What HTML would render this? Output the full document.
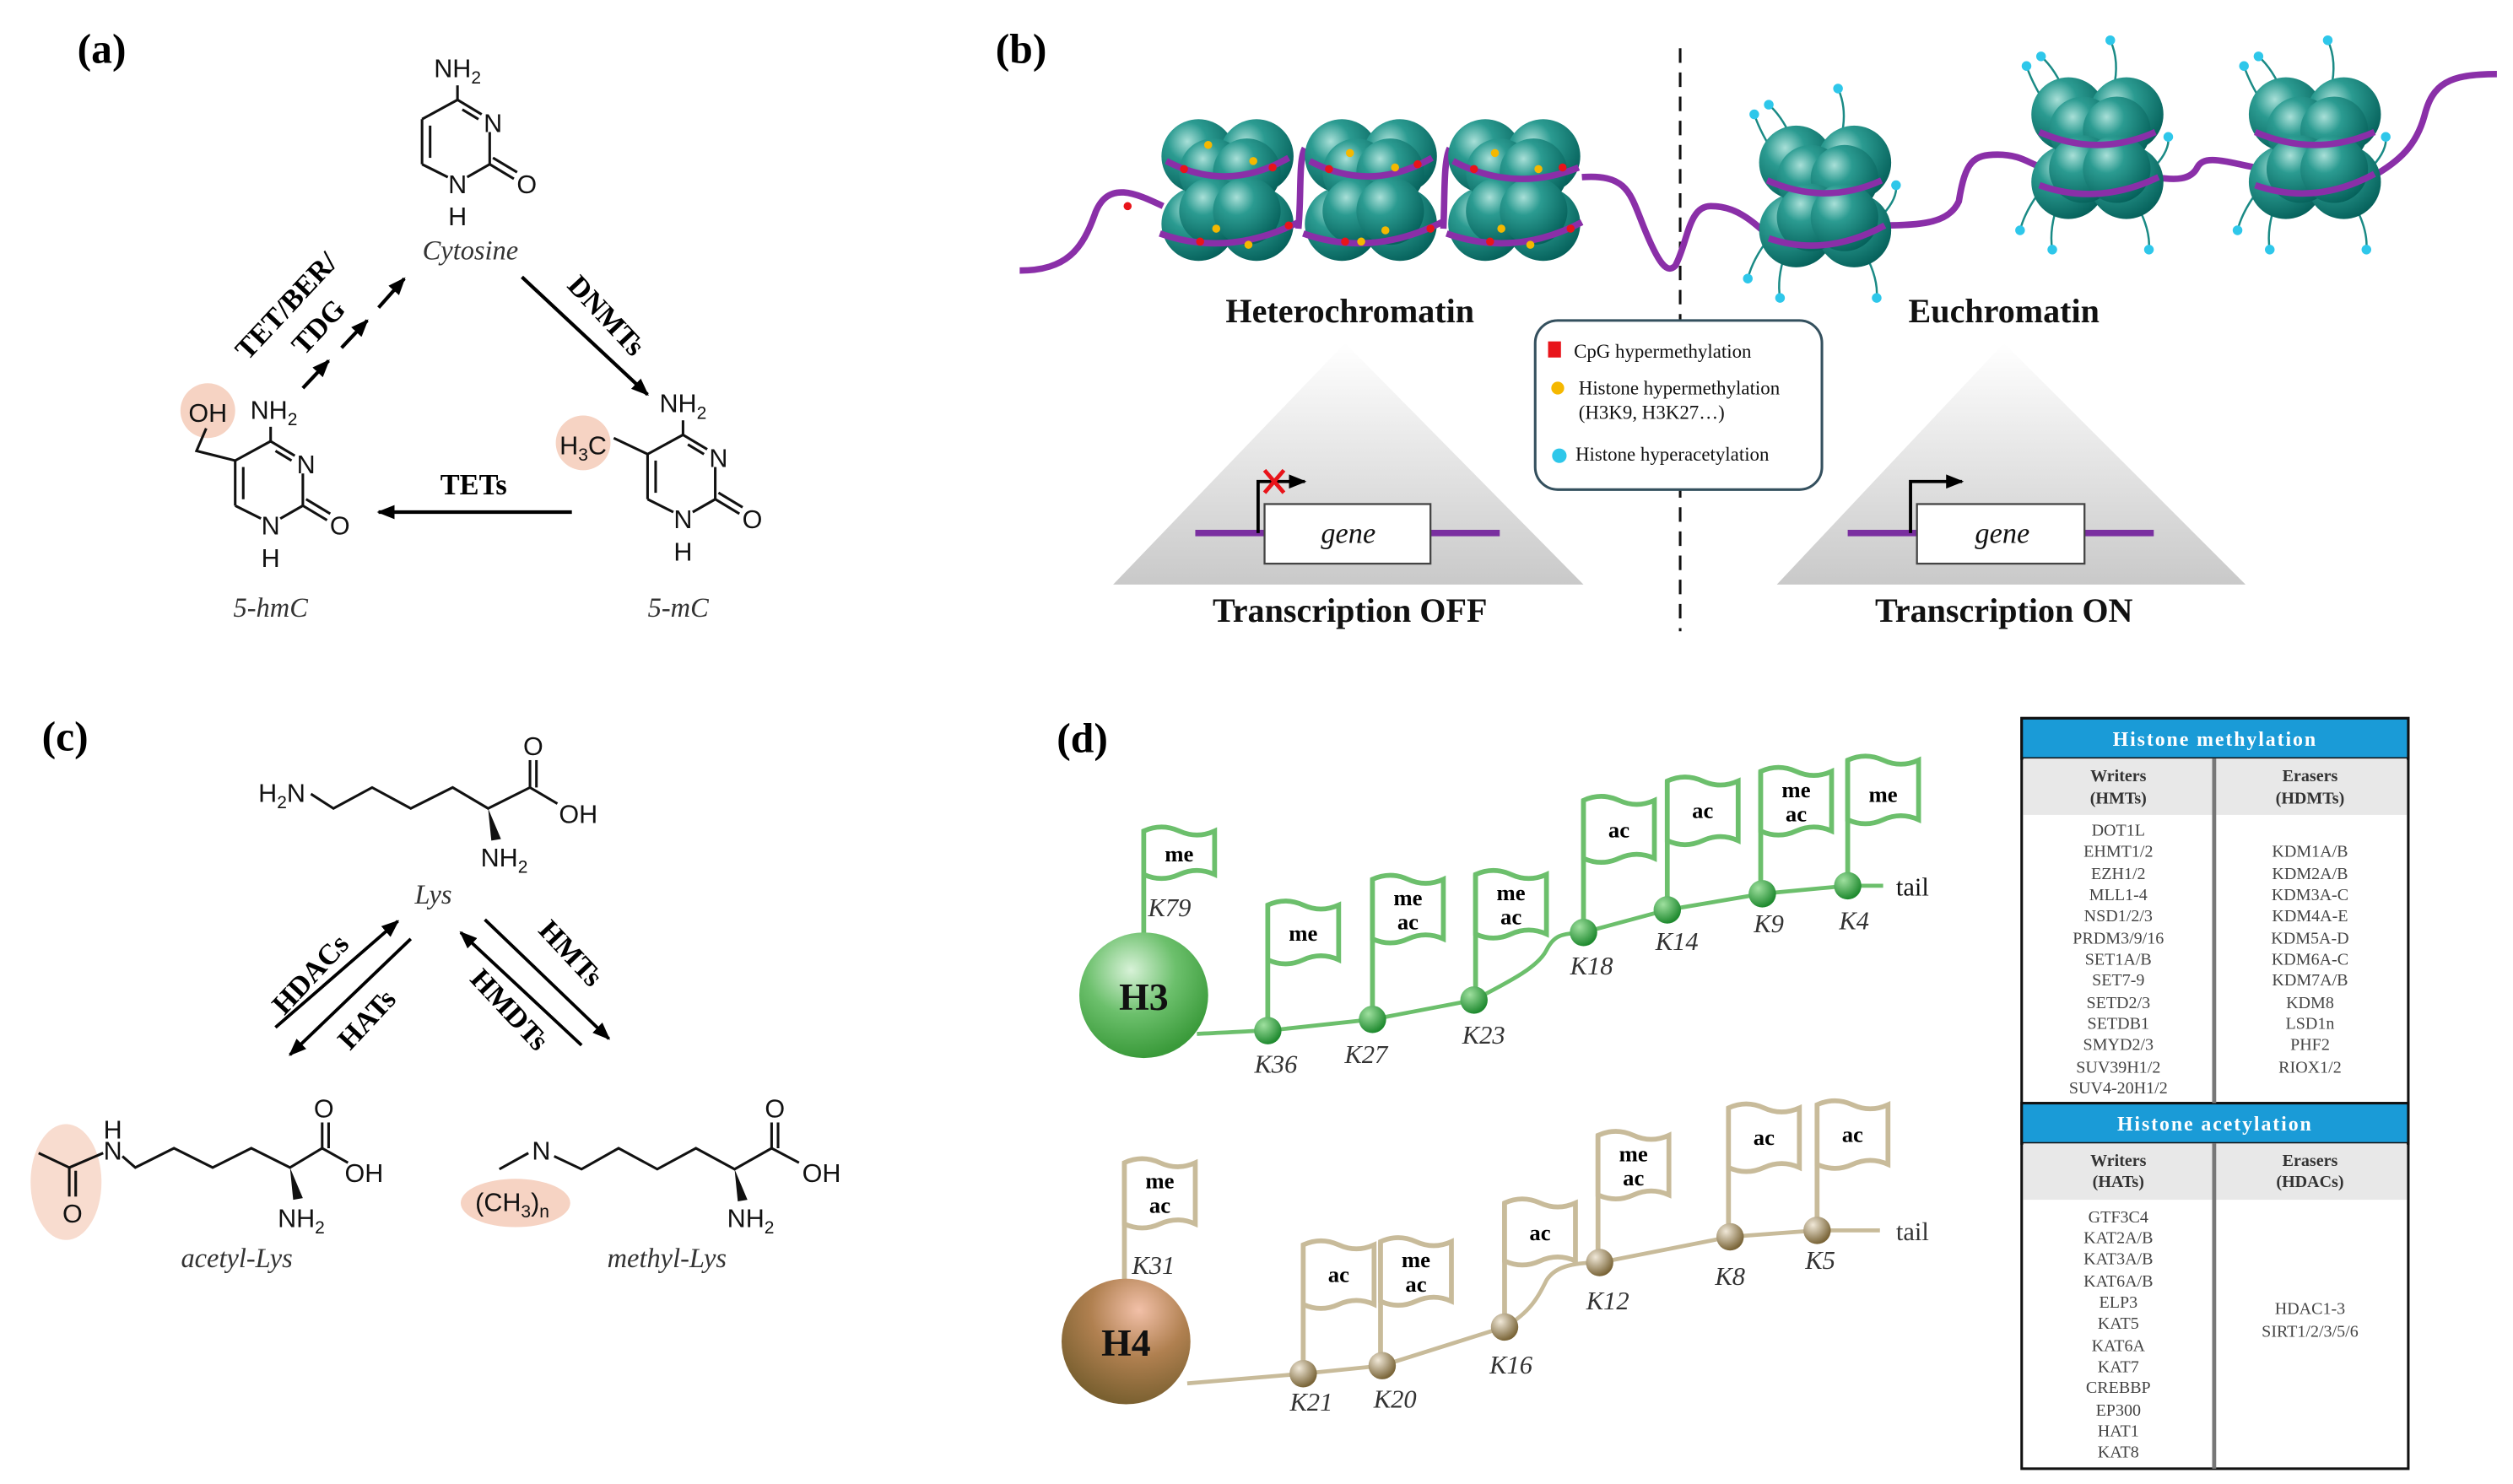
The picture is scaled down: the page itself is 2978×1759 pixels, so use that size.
<!DOCTYPE html>
<html><head><meta charset="utf-8"><style>
html,body{margin:0;padding:0;background:#fff}
svg{display:block}
.s{font-family:"Liberation Sans",sans-serif;font-size:16px;fill:#111}
.r{font-family:"Liberation Serif",serif;fill:#111}
.lab{font-family:"Liberation Serif",serif;font-weight:bold;font-size:26px}
.it{font-family:"Liberation Serif",serif;font-style:italic;font-size:17px;fill:#333}
.bt{font-family:"Liberation Serif",serif;font-weight:bold;font-size:18px}
.fl{font-family:"Liberation Serif",serif;font-weight:bold;font-size:14px;text-anchor:middle}
.kl{font-family:"Liberation Serif",serif;font-style:italic;font-size:16px;fill:#333;text-anchor:middle}
.tb{font-family:"Liberation Serif",serif;font-size:10.5px;fill:#444;text-anchor:middle}
.th{font-family:"Liberation Serif",serif;font-size:10.5px;font-weight:bold;fill:#333;text-anchor:middle}
.tw{font-family:"Liberation Serif",serif;font-size:12.5px;font-weight:bold;fill:#fff;text-anchor:middle;letter-spacing:1px}
</style></head><body>
<svg width="2978" height="1759" viewBox="0 0 1560 921.5" preserveAspectRatio="none" xmlns="http://www.w3.org/2000/svg">
<defs>
<marker id="ah" viewBox="0 0 10 8" refX="9" refY="4" markerWidth="11" markerHeight="9" markerUnits="userSpaceOnUse" orient="auto"><path d="M0,0 L10,4 L0,8 z" fill="#000"/></marker>
<g id="ring" stroke="#111" stroke-width="1.6" fill="none">
<line x1="0" y1="0" x2="15" y2="9"/><line x1="3" y1="6" x2="13" y2="12"/>
<line x1="20" y1="20" x2="20" y2="40"/>
<line x1="20" y1="40" x2="6" y2="48"/>
<line x1="-6" y1="48" x2="-22" y2="40"/>
<line x1="-22" y1="40" x2="-22" y2="12"/><line x1="-17" y1="36" x2="-17" y2="16"/>
<line x1="-22" y1="12" x2="0" y2="0"/>
<line x1="20" y1="40" x2="35" y2="49"/><line x1="22" y1="36" x2="37" y2="45"/>
<line x1="0" y1="0" x2="0" y2="-9"/>
</g>
<radialGradient id="teal" cx="35%" cy="30%" r="75%"><stop offset="0" stop-color="#a9e0d8"/><stop offset="0.35" stop-color="#2b9b91"/><stop offset="1" stop-color="#05605a"/></radialGradient>
<linearGradient id="tri" x1="0" y1="0" x2="0" y2="1"><stop offset="0" stop-color="#fff"/><stop offset="1" stop-color="#c9c9c9"/></linearGradient>
<radialGradient id="g3" cx="40%" cy="30%" r="70%"><stop offset="0" stop-color="#d8f2d8"/><stop offset="0.5" stop-color="#6cc06c"/><stop offset="1" stop-color="#3a9a3a"/></radialGradient>
<radialGradient id="g4" cx="60%" cy="25%" r="75%"><stop offset="0" stop-color="#f2c0a8"/><stop offset="0.5" stop-color="#b08050"/><stop offset="1" stop-color="#7a6030"/></radialGradient>
<radialGradient id="b3" cx="35%" cy="30%" r="70%"><stop offset="0" stop-color="#9fe09f"/><stop offset="1" stop-color="#1f8a2f"/></radialGradient>
<radialGradient id="b4" cx="35%" cy="30%" r="70%"><stop offset="0" stop-color="#f0e8d8"/><stop offset="1" stop-color="#7a6538"/></radialGradient>
<g id="nuc">
<circle cx="-18" cy="-22" r="23" fill="url(#teal)"/><circle cx="18" cy="-22" r="23" fill="url(#teal)"/>
<circle cx="-18" cy="20" r="23" fill="url(#teal)"/><circle cx="18" cy="20" r="23" fill="url(#teal)"/>
<circle cx="-9" cy="-12" r="21" fill="url(#teal)"/><circle cx="12" cy="-12" r="21" fill="url(#teal)"/>
<circle cx="-9" cy="12" r="21" fill="url(#teal)"/><circle cx="12" cy="12" r="21" fill="url(#teal)"/>
</g>
<g id="tails" stroke="#1a8a85" stroke-width="1.3" fill="none">
<path d="M-30,-25 Q-40,-40 -44,-52"/><path d="M-20,-35 Q-26,-50 -35,-58"/><path d="M10,-38 Q14,-55 8,-68"/>
<path d="M-35,25 Q-45,38 -48,50"/><path d="M-25,35 Q-30,50 -28,62"/><path d="M25,35 Q33,50 32,62"/><path d="M36,10 Q45,0 44,-8"/>
<g fill="#2ec7ea" stroke="none"><circle cx="-44" cy="-52" r="3"/><circle cx="-35" cy="-58" r="3"/><circle cx="8" cy="-68" r="3"/><circle cx="-48" cy="50" r="3"/><circle cx="-28" cy="62" r="3"/><circle cx="32" cy="62" r="3"/><circle cx="44" cy="-8" r="3"/></g>
</g>
</defs>

<!-- ===== (a) ===== -->
<text class="lab" x="48" y="39">(a)</text>
<use href="#ring" x="284" y="62"/>
<text class="s" x="284" y="48" text-anchor="middle">NH<tspan font-size="11" dy="4">2</tspan></text>
<text class="s" x="306" y="82" text-anchor="middle">N</text>
<text class="s" x="284" y="120" text-anchor="middle">N</text>
<text class="s" x="284" y="140" text-anchor="middle">H</text>
<text class="s" x="327" y="120" text-anchor="middle">O</text>
<text class="it" x="292" y="161" text-anchor="middle">Cytosine</text>

<use href="#ring" x="424" y="270"/>
<text class="s" x="424" y="256" text-anchor="middle">NH<tspan font-size="11" dy="4">2</tspan></text>
<text class="s" x="446" y="290" text-anchor="middle">N</text>
<text class="s" x="424" y="328" text-anchor="middle">N</text>
<text class="s" x="424" y="348" text-anchor="middle">H</text>
<text class="s" x="467" y="328" text-anchor="middle">O</text>
<circle cx="362" cy="275" r="17" fill="#f6d3c3"/>
<line x1="402" y1="282" x2="381" y2="272" stroke="#111" stroke-width="1.6"/>
<text class="s" x="362" y="282" text-anchor="middle">H<tspan font-size="11" dy="4">3</tspan><tspan dy="-4">C</tspan></text>
<text class="it" x="421" y="383" text-anchor="middle">5-mC</text>

<use href="#ring" x="168" y="274"/>
<text class="s" x="170" y="260" text-anchor="middle">NH<tspan font-size="11" dy="4">2</tspan></text>
<text class="s" x="190" y="294" text-anchor="middle">N</text>
<text class="s" x="168" y="332" text-anchor="middle">N</text>
<text class="s" x="168" y="352" text-anchor="middle">H</text>
<text class="s" x="211" y="332" text-anchor="middle">O</text>
<circle cx="129" cy="255" r="17" fill="#f6d3c3"/>
<polyline points="146,286 122,280 128,266" fill="none" stroke="#111" stroke-width="1.6"/>
<text class="s" x="129" y="262" text-anchor="middle">OH</text>
<text class="it" x="168" y="383" text-anchor="middle">5-hmC</text>

<g stroke="#000" stroke-width="2.2" marker-end="url(#ah)">
<line x1="188" y1="241" x2="204" y2="224"/>
<line x1="212" y1="216" x2="228" y2="199"/>
<line x1="235" y1="191" x2="251" y2="173"/>
<line x1="324" y1="172" x2="402" y2="245"/>
<line x1="355" y1="318" x2="235" y2="318"/>
</g>
<text class="bt" x="294" y="307" text-anchor="middle">TETs</text>
<text class="bt" transform="translate(372,200) rotate(47)" text-anchor="middle">DNMTs</text>
<text class="bt" transform="translate(182,194) rotate(-47)" text-anchor="middle">TET/BER/</text>
<text class="bt" transform="translate(202,207) rotate(-47)" text-anchor="middle">TDG</text>

<!-- ===== (b) ===== -->
<text class="lab" x="618" y="39">(b)</text>
<line x1="1043" y1="30" x2="1043" y2="392" stroke="#111" stroke-width="1.6" stroke-dasharray="9,6"/>
<polygon points="835,213 691,363 983,363" fill="url(#tri)"/>
<polygon points="1244,213 1103,363 1394,363" fill="url(#tri)"/>
<!-- DNA back -->
<path d="M633,168 C662,168 672,155 680,132 C688,112 705,120 722,128 M806,142 C808,120 806,100 810,92 M896,142 C897,120 896,100 900,92 M982,110 C1010,108 1012,120 1020,140 C1030,165 1035,170 1040,165 C1048,150 1048,128 1062,128 C1080,128 1090,140 1100,148 M1168,140 C1195,140 1210,138 1216,125 C1220,100 1225,96 1240,96 C1255,96 1260,102 1268,104 M1338,110 C1350,112 1360,112 1364,104 C1368,96 1380,100 1400,104 M1472,110 C1490,100 1500,90 1505,72 C1510,52 1520,46 1550,46" fill="none" stroke="#8a2fa8" stroke-width="4"/>
<use href="#nuc" x="762" y="119"/><use href="#nuc" x="851" y="119"/><use href="#nuc" x="940" y="119"/>
<use href="#tails" x="1133" y="123"/><use href="#tails" x="1302" y="93"/><use href="#tails" x="1437" y="93"/>
<use href="#nuc" x="1133" y="123"/><use href="#nuc" x="1302" y="93"/><use href="#nuc" x="1437" y="93"/>
<g fill="none" stroke="#8a2fa8" stroke-width="4">
<path d="M724,100 Q762,120 800,98"/><path d="M720,145 Q762,160 806,138"/>
<path d="M813,100 Q851,120 889,98"/><path d="M809,145 Q851,160 895,138"/>
<path d="M902,100 Q940,120 980,104"/><path d="M898,145 Q940,160 982,138"/>
<path d="M1097,112 Q1133,128 1168,112"/><path d="M1098,148 Q1133,160 1170,140"/>
<path d="M1266,82 Q1302,98 1338,82"/><path d="M1266,115 Q1302,128 1340,110"/>
<path d="M1400,82 Q1437,98 1474,82"/><path d="M1400,115 Q1437,128 1474,108"/>
</g>
<g fill="#e8141a"><circle cx="735" cy="105" r="2.5"/><circle cx="790" cy="104" r="2.5"/><circle cx="745" cy="150" r="2.5"/><circle cx="800" cy="140" r="2.5"/><circle cx="825" cy="105" r="2.5"/><circle cx="880" cy="102" r="2.5"/><circle cx="835" cy="150" r="2.5"/><circle cx="888" cy="142" r="2.5"/><circle cx="915" cy="105" r="2.5"/><circle cx="970" cy="104" r="2.5"/><circle cx="925" cy="150" r="2.5"/><circle cx="975" cy="142" r="2.5"/><circle cx="700" cy="128" r="2.5"/></g>
<g fill="#f5b800"><circle cx="750" cy="90" r="2.5"/><circle cx="778" cy="100" r="2.5"/><circle cx="755" cy="142" r="2.5"/><circle cx="775" cy="152" r="2.5"/><circle cx="838" cy="95" r="2.5"/><circle cx="866" cy="104" r="2.5"/><circle cx="845" cy="150" r="2.5"/><circle cx="860" cy="143" r="2.5"/><circle cx="928" cy="95" r="2.5"/><circle cx="955" cy="105" r="2.5"/><circle cx="932" cy="142" r="2.5"/><circle cx="950" cy="152" r="2.5"/></g>
<text class="r" x="838" y="200" text-anchor="middle" font-size="21" font-weight="bold">Heterochromatin</text>
<text class="r" x="1244" y="200" text-anchor="middle" font-size="21" font-weight="bold">Euchromatin</text>
<rect x="953" y="199" width="178" height="105" rx="14" fill="#fff" stroke="#34505e" stroke-width="1.6"/>
<rect x="961" y="212" width="8" height="10" fill="#e8141a"/>
<text class="r" x="977" y="222" font-size="12" fill="#333">CpG hypermethylation</text>
<circle cx="967" cy="241" r="4" fill="#f5b800"/>
<text class="r" x="980" y="245" font-size="12" fill="#333">Histone hypermethylation</text>
<text class="r" x="980" y="260" font-size="12" fill="#333">(H3K9, H3K27…)</text>
<circle cx="968" cy="283" r="4.5" fill="#2ec7ea"/>
<text class="r" x="978" y="286" font-size="12" fill="#333">Histone hyperacetylation</text>
<!-- genes -->
<line x1="742" y1="331" x2="931" y2="331" stroke="#7a2fa0" stroke-width="4"/>
<rect x="785" y="313" width="103" height="37" fill="#fff" stroke="#444" stroke-width="1.2"/>
<text class="r" x="837" y="337" text-anchor="middle" font-size="18" font-style="italic">gene</text>
<polyline points="781,331 781,299 810,299" fill="none" stroke="#000" stroke-width="2" marker-end="url(#ah)"/>
<path d="M785,292 L797,306 M797,292 L785,306" stroke="#e8141a" stroke-width="2.5"/>
<line x1="1147" y1="331" x2="1337" y2="331" stroke="#7a2fa0" stroke-width="4"/>
<rect x="1190" y="313" width="104" height="37" fill="#fff" stroke="#444" stroke-width="1.2"/>
<text class="r" x="1243" y="337" text-anchor="middle" font-size="18" font-style="italic">gene</text>
<polyline points="1186,331 1186,299 1218,299" fill="none" stroke="#000" stroke-width="2" marker-end="url(#ah)"/>
<text class="r" x="838" y="386" text-anchor="middle" font-size="21" font-weight="bold">Transcription OFF</text>
<text class="r" x="1244" y="386" text-anchor="middle" font-size="21" font-weight="bold">Transcription ON</text>

<!-- ===== (c) ===== -->
<text class="lab" x="26" y="466">(c)</text>
<g stroke="#111" stroke-width="1.6" fill="none">
<polyline points="193,493 207,502 231,489 255,502 281,489 303,502 329,489 346,499"/>
<line x1="329" y1="489" x2="329" y2="472"/><line x1="333" y1="489" x2="333" y2="472"/>
<polyline points="43,743 43,725 24,716"/><line x1="47" y1="743" x2="47" y2="727"/>
<polyline points="43,725 64,716"/>
<polyline points="76,718 84,725 108,713 132,725 156,713 180,725 200,713 216,722"/>
<line x1="200" y1="713" x2="200" y2="697"/><line x1="204" y1="713" x2="204" y2="697"/>
<polyline points="310,726 328,716"/>
<polyline points="344,718 361,726 384,713 408,726 432,713 456,726 479,713 496,722"/>
<line x1="479" y1="713" x2="479" y2="697"/><line x1="483" y1="713" x2="483" y2="697"/>
</g>
<g fill="#111"><polygon points="303,502 305,522 311,521"/><polygon points="180,725 182,745 188,744"/><polygon points="456,726 458,746 464,745"/></g>
<text class="s" x="175" y="498" text-anchor="middle">H<tspan font-size="11" dy="4">2</tspan><tspan dy="-4">N</tspan></text>
<text class="s" x="331" y="469" text-anchor="middle">O</text>
<text class="s" x="359" y="511" text-anchor="middle">OH</text>
<text class="s" x="313" y="538" text-anchor="middle">NH<tspan font-size="11" dy="4">2</tspan></text>
<text class="it" x="269" y="561" text-anchor="middle">Lys</text>
<g stroke="#000" stroke-width="2" marker-end="url(#ah)">
<line x1="171" y1="638" x2="247" y2="572"/><line x1="255" y1="583" x2="180" y2="655"/>
<line x1="301" y1="571" x2="378" y2="645"/><line x1="361" y1="649" x2="286" y2="579"/>
</g>
<text class="bt" font-size="17" transform="translate(197,609) rotate(-47)" text-anchor="middle">HDACs</text>
<text class="bt" font-size="17" transform="translate(232,637) rotate(-47)" text-anchor="middle">HATs</text>
<text class="bt" font-size="17" transform="translate(350,596) rotate(47)" text-anchor="middle">HMTs</text>
<text class="bt" font-size="17" transform="translate(312,631) rotate(47)" text-anchor="middle">HMDTs</text>
<ellipse cx="41" cy="734" rx="22" ry="36" fill="#f6d3c3" fill-opacity="0.8"/>
<g stroke="#111" stroke-width="1.6" fill="none"><polyline points="43,743 43,725 24,716"/><line x1="47" y1="743" x2="47" y2="727"/><line x1="43" y1="725" x2="64" y2="716"/></g>
<text class="s" x="70" y="720" text-anchor="middle">N</text>
<text class="s" x="70" y="707" text-anchor="middle">H</text>
<text class="s" x="45" y="759" text-anchor="middle">O</text>
<text class="s" x="201" y="694" text-anchor="middle">O</text>
<text class="s" x="226" y="734" text-anchor="middle">OH</text>
<text class="s" x="187" y="762" text-anchor="middle">NH<tspan font-size="11" dy="4">2</tspan></text>
<text class="it" x="147" y="787" text-anchor="middle">acetyl-Lys</text>
<ellipse cx="320" cy="747" rx="34" ry="15" fill="#f6d3c3"/>
<text class="s" x="336" y="720" text-anchor="middle">N</text>
<text class="s" x="318" y="752" text-anchor="middle">(CH<tspan font-size="11" dy="4">3</tspan><tspan dy="-4">)</tspan><tspan font-size="11" dy="4">n</tspan></text>
<text class="s" x="481" y="694" text-anchor="middle">O</text>
<text class="s" x="510" y="734" text-anchor="middle">OH</text>
<text class="s" x="466" y="762" text-anchor="middle">NH<tspan font-size="11" dy="4">2</tspan></text>
<text class="it" x="414" y="787" text-anchor="middle">methyl-Lys</text>

<!-- ===== (d) ===== -->
<text class="lab" x="656" y="467">(d)</text>
<!-- H3 -->
<path d="M743,642 C765,641 780,640 787,640 L852,633 L915,621 C940,608 955,600 960,590 C965,580 970,580 983,579 L1035,565 L1094,555 L1147,550 L1169,550" fill="none" stroke="#6cbf6c" stroke-width="2.5"/>
<g stroke="#6cbf6c" stroke-width="3" fill="#fff">
<line x1="710" y1="582" x2="710" y2="516"/><path d="M710,516 q11,-5 22,0 t22,0 v27 q-11,-5 -22,0 t-22,0 z"/>
<line x1="787" y1="640" x2="787" y2="562"/><path d="M787,562 q11,-5 22,0 t22,0 v34 q-11,-5 -22,0 t-22,0 z"/>
<line x1="852" y1="633" x2="852" y2="546"/><path d="M852,546 q11,-5 22,0 t22,0 v37 q-11,-5 -22,0 t-22,0 z"/>
<line x1="916" y1="621" x2="916" y2="543"/><path d="M916,543 q11,-5 22,0 t22,0 v37 q-11,-5 -22,0 t-22,0 z"/>
<line x1="983" y1="579" x2="983" y2="497"/><path d="M983,497 q11,-5 22,0 t22,0 v36 q-11,-5 -22,0 t-22,0 z"/>
<line x1="1035" y1="565" x2="1035" y2="485"/><path d="M1035,485 q11,-5 22,0 t22,0 v37 q-11,-5 -22,0 t-22,0 z"/>
<line x1="1093" y1="555" x2="1093" y2="479"/><path d="M1093,479 q11,-5 22,0 t22,0 v37 q-11,-5 -22,0 t-22,0 z"/>
<line x1="1147" y1="550" x2="1147" y2="472"/><path d="M1147,472 q11,-5 22,0 t22,0 v37 q-11,-5 -22,0 t-22,0 z"/>
</g>
<g fill="url(#b3)"><circle cx="787" cy="640" r="8.5"/><circle cx="852" cy="633" r="8.5"/><circle cx="915" cy="621" r="8.5"/><circle cx="983" cy="579" r="8.5"/><circle cx="1035" cy="565" r="8.5"/><circle cx="1094" cy="555" r="8.5"/><circle cx="1147" cy="550" r="8.5"/></g>
<ellipse cx="710" cy="618" rx="40" ry="39" fill="url(#g3)"/>
<text class="r" x="710" y="627" text-anchor="middle" font-size="24" font-weight="bold">H3</text>
<text class="s" x="1177" y="556" font-family="Liberation Serif" style="font-family:'Liberation Serif',serif" font-size="16">tail</text>
<text class="fl" x="732" y="535">me</text>
<text class="fl" x="809" y="584">me</text>
<text class="fl" x="874" y="562">me</text><text class="fl" x="874" y="577">ac</text>
<text class="fl" x="938" y="559">me</text><text class="fl" x="938" y="574">ac</text>
<text class="fl" x="1005" y="520">ac</text>
<text class="fl" x="1057" y="508">ac</text>
<text class="fl" x="1115" y="495">me</text><text class="fl" x="1115" y="510">ac</text>
<text class="fl" x="1169" y="498">me</text>
<text class="kl" x="726" y="569">K79</text><text class="kl" x="792" y="666">K36</text><text class="kl" x="848" y="660">K27</text><text class="kl" x="921" y="648">K23</text><text class="kl" x="988" y="605">K18</text><text class="kl" x="1041" y="590">K14</text><text class="kl" x="1098" y="579">K9</text><text class="kl" x="1151" y="577">K4</text>
<!-- H4 -->
<path d="M737,859 L809,853 L858,848 L934,824 C950,815 955,805 960,795 C965,787 975,784 993,784 L1074,768 L1128,764 L1167,764" fill="none" stroke="#c8bb9a" stroke-width="2.5"/>
<g stroke="#c8bb9a" stroke-width="3" fill="#fff">
<line x1="698" y1="796" x2="698" y2="722"/><path d="M698,722 q11,-5 22,0 t22,0 v38 q-11,-5 -22,0 t-22,0 z"/>
<line x1="809" y1="853" x2="809" y2="773"/><path d="M809,773 q11,-5 22,0 t22,0 v37 q-11,-5 -22,0 t-22,0 z"/>
<line x1="857" y1="848" x2="857" y2="771"/><path d="M857,771 q11,-5 22,0 t22,0 v37 q-11,-5 -22,0 t-22,0 z"/>
<line x1="934" y1="824" x2="934" y2="747"/><path d="M934,747 q11,-5 22,0 t22,0 v36 q-11,-5 -22,0 t-22,0 z"/>
<line x1="992" y1="784" x2="992" y2="705"/><path d="M992,705 q11,-5 22,0 t22,0 v37 q-11,-5 -22,0 t-22,0 z"/>
<line x1="1073" y1="768" x2="1073" y2="688"/><path d="M1073,688 q11,-5 22,0 t22,0 v37 q-11,-5 -22,0 t-22,0 z"/>
<line x1="1128" y1="764" x2="1128" y2="686"/><path d="M1128,686 q11,-5 22,0 t22,0 v37 q-11,-5 -22,0 t-22,0 z"/>
</g>
<g fill="url(#b4)"><circle cx="809" cy="853" r="8.5"/><circle cx="858" cy="848" r="8.5"/><circle cx="934" cy="824" r="8.5"/><circle cx="993" cy="784" r="8.5"/><circle cx="1074" cy="768" r="8.5"/><circle cx="1128" cy="764" r="8.5"/></g>
<ellipse cx="699" cy="833" rx="40" ry="39" fill="url(#g4)"/>
<text class="r" x="699" y="842" text-anchor="middle" font-size="24" font-weight="bold">H4</text>
<text x="1177" y="770" style="font-family:'Liberation Serif',serif" font-size="16" fill="#333">tail</text>
<text class="fl" x="720" y="738">me</text><text class="fl" x="720" y="753">ac</text>
<text class="fl" x="831" y="796">ac</text>
<text class="fl" x="879" y="787">me</text><text class="fl" x="879" y="802">ac</text>
<text class="fl" x="956" y="770">ac</text>
<text class="fl" x="1014" y="721">me</text><text class="fl" x="1014" y="736">ac</text>
<text class="fl" x="1095" y="711">ac</text>
<text class="fl" x="1150" y="709">ac</text>
<text class="kl" x="716" y="791">K31</text><text class="kl" x="814" y="876">K21</text><text class="kl" x="866" y="874">K20</text><text class="kl" x="938" y="853">K16</text><text class="kl" x="998" y="813">K12</text><text class="kl" x="1074" y="798">K8</text><text class="kl" x="1130" y="788">K5</text>

<!-- table -->
<rect x="1255" y="446" width="240" height="466" fill="#fff" stroke="#111" stroke-width="1.6"/>
<rect x="1255" y="446" width="240" height="25" fill="#1a9bd7" stroke="#111" stroke-width="1.6"/>
<rect x="1256" y="471" width="238" height="35" fill="#e8e8e8"/>
<rect x="1255" y="685" width="240" height="25" fill="#1a9bd7" stroke="#111" stroke-width="1.6"/>
<rect x="1256" y="710" width="238" height="35" fill="#e8e8e8"/>
<line x1="1374.5" y1="471" x2="1374.5" y2="685" stroke="#777" stroke-width="2.5"/>
<line x1="1374.5" y1="710" x2="1374.5" y2="912" stroke="#777" stroke-width="2.5"/>
<text class="tw" x="1375" y="463">Histone methylation</text>
<text class="tw" x="1375" y="702">Histone acetylation</text>
<text class="th" x="1315" y="485">Writers</text><text class="th" x="1315" y="499">(HMTs)</text>
<text class="th" x="1434" y="485">Erasers</text><text class="th" x="1434" y="499">(HDMTs)</text>
<text class="th" x="1315" y="724">Writers</text><text class="th" x="1315" y="737">(HATs)</text>
<text class="th" x="1434" y="724">Erasers</text><text class="th" x="1434" y="737">(HDACs)</text>
<g class="tb">
<text x="1315" y="519">DOT1L</text><text x="1315" y="532">EHMT1/2</text><text x="1315" y="546">EZH1/2</text><text x="1315" y="559">MLL1-4</text><text x="1315" y="572">NSD1/2/3</text><text x="1315" y="586">PRDM3/9/16</text><text x="1315" y="599">SET1A/B</text><text x="1315" y="612">SET7-9</text><text x="1315" y="626">SETD2/3</text><text x="1315" y="639">SETDB1</text><text x="1315" y="652">SMYD2/3</text><text x="1315" y="666">SUV39H1/2</text><text x="1315" y="679">SUV4-20H1/2</text>
<text x="1434" y="532">KDM1A/B</text><text x="1434" y="546">KDM2A/B</text><text x="1434" y="559">KDM3A-C</text><text x="1434" y="572">KDM4A-E</text><text x="1434" y="586">KDM5A-D</text><text x="1434" y="599">KDM6A-C</text><text x="1434" y="612">KDM7A/B</text><text x="1434" y="626">KDM8</text><text x="1434" y="639">LSD1n</text><text x="1434" y="652">PHF2</text><text x="1434" y="666">RIOX1/2</text>
<text x="1315" y="759">GTF3C4</text><text x="1315" y="772">KAT2A/B</text><text x="1315" y="785">KAT3A/B</text><text x="1315" y="799">KAT6A/B</text><text x="1315" y="812">ELP3</text><text x="1315" y="825">KAT5</text><text x="1315" y="839">KAT6A</text><text x="1315" y="852">KAT7</text><text x="1315" y="865">CREBBP</text><text x="1315" y="879">EP300</text><text x="1315" y="892">HAT1</text><text x="1315" y="905">KAT8</text>
<text x="1434" y="816">HDAC1-3</text><text x="1434" y="830">SIRT1/2/3/5/6</text>
</g>
</svg>
</body></html>
